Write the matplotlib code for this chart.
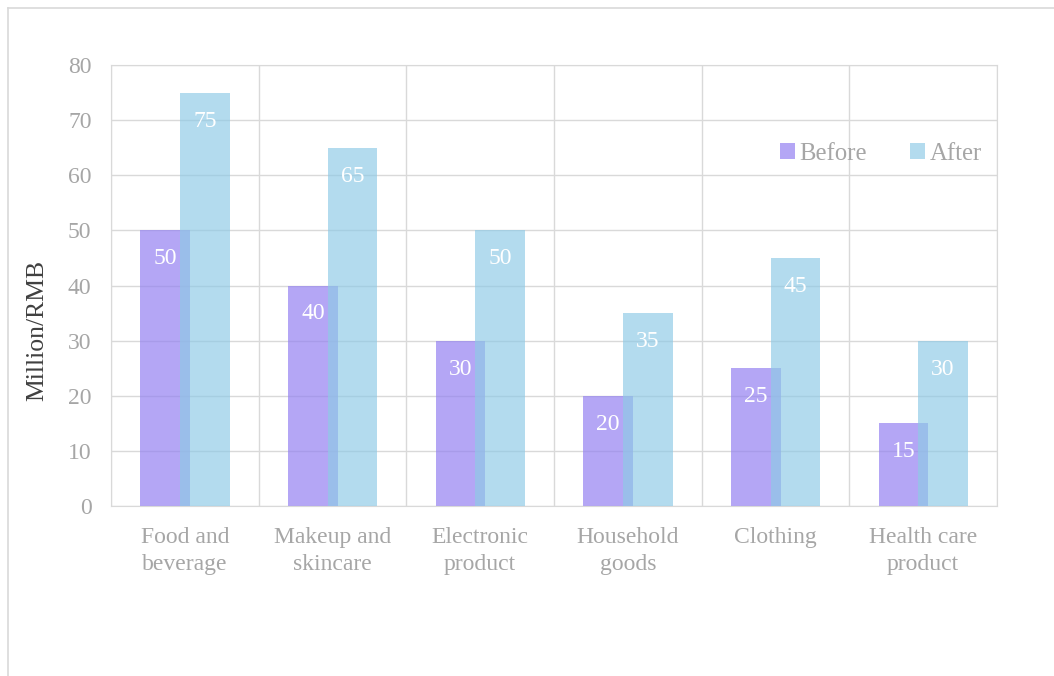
import matplotlib
matplotlib.use('Agg')
import matplotlib.pyplot as plt
import numpy as np

categories = ['Food and\nbeverage', 'Makeup and\nskincare', 'Electronic\nproduct',
              'Household\ngoods', 'Clothing', 'Health care\nproduct']
before = [50, 40, 30, 20, 25, 15]
after = [75, 65, 50, 35, 45, 30]

plt.rcParams['font.family'] = ['Liberation Serif', 'DejaVu Serif']
fs = 17

fig = plt.figure(figsize=(10.54, 6.76), dpi=100)
ax = fig.add_axes([111 / 1054, 1 - 506 / 676, (997 - 111) / 1054, (506 - 65) / 676])

# outer frame of the chart area (only top and left visible)
fig.add_artist(plt.Line2D([8 / 1054, 1], [1 - 8 / 676, 1 - 8 / 676], color='#d9d9d9', lw=1.2))
fig.add_artist(plt.Line2D([8 / 1054, 8 / 1054], [0, 1 - 8 / 676], color='#d9d9d9', lw=1.2))

x = np.arange(len(categories))
w = 0.335
b1 = ax.bar(x - 0.133, before, w, color=(148 / 255, 129 / 255, 241 / 255), alpha=0.7, label='Before', zorder=2)
b2 = ax.bar(x + 0.135, after, w, color=(143 / 255, 202 / 255, 230 / 255), alpha=0.68, label='After', zorder=3)

for bars, vals in ((b1, before), (b2, after)):
    for r, v in zip(bars, vals):
        ax.annotate(str(v), (r.get_x() + r.get_width() / 2, v), xytext=(0, -20.5),
                    textcoords='offset points', ha='center', va='center',
                    color='white', fontsize=fs, zorder=5)

ax.set_xlim(-0.5, len(categories) - 0.5)
ax.set_ylim(0, 80)
ax.set_yticks(range(0, 81, 10))
ax.set_xticks(x)
ax.set_xticklabels(categories, fontsize=fs, color='#a6a6a6', linespacing=1.38)
ax.tick_params(axis='y', labelsize=fs, labelcolor='#a6a6a6', length=0, pad=14)
ax.tick_params(axis='x', length=0, pad=15)

# category separators + horizontal grid
ax.set_xticks(np.arange(-0.5, len(categories)), minor=True)
ax.grid(axis='x', which='minor', color='#d9d9d9', lw=1, zorder=0)
ax.grid(axis='y', which='major', color='#d9d9d9', lw=1, zorder=0)
ax.tick_params(axis='x', which='minor', length=0)
ax.set_axisbelow(True)
for s in ax.spines.values():
    s.set_color('#d9d9d9')

ax.set_ylabel('Million/RMB', fontsize=18.5, color='#404040')
ax.yaxis.set_label_coords(-0.071, 0.397)

leg = ax.legend(loc='upper right', bbox_to_anchor=(1.008, 0.874), ncol=2, frameon=False,
                fontsize=17.8, handlelength=0.6, handleheight=0.6, handletextpad=0.2,
                columnspacing=1.72)
for t in leg.get_texts():
    t.set_color('#a6a6a6')

fig.savefig('out.png', dpi=100)
